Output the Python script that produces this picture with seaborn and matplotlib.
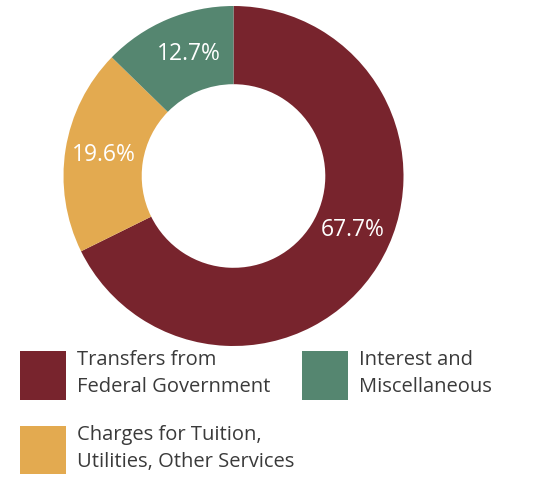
import seaborn as sns
import matplotlib.pyplot as plt

sns.set_theme(style="white")
plt.rcParams['font.family'] = ['Open Sans', 'DejaVu Sans']

# data
labels = ["Transfers from\nFederal Government",
          "Charges for Tuition,\nUtilities, Other Services",
          "Interest and\nMiscellaneous"]
shares = [67.7, 19.6, 12.7]
colors = ["#78242d", "#e3aa50", "#558670"]

fig = plt.figure(figsize=(5.53, 4.8), dpi=100)
# pie axes: 340x340 px box, centre at (233.5, 176) from top-left
ax = fig.add_axes([63.5 / 553, (480 - 346) / 480, 340 / 553, 340 / 480])

wedges, texts, autotexts = ax.pie(
    shares, colors=colors, startangle=90, counterclock=False,
    radius=1, wedgeprops=dict(width=0.46, edgecolor="none"),
    autopct="%.1f%%", pctdistance=0.77,
    textprops=dict(color="white", fontsize=16.5))
# the big label sits a bit further round than the wedge middle
autotexts[0].set_position((0.70, -0.32))
autotexts[1].set_position((-0.76, 0.125))
autotexts[2].set_position((-0.26, 0.72))
ax.set_xlim(-1, 1)
ax.set_ylim(-1, 1)
ax.set_aspect("equal")
ax.axis("off")

leg = fig.legend(wedges, labels, ncol=2, loc="upper left",
                 bbox_to_anchor=(12 / 553, 1 - 342 / 480),
                 frameon=False, fontsize=14.5, labelcolor="#3a3a3a",
                 handlelength=2.3, handleheight=3.35, handletextpad=0.55,
                 columnspacing=0.35, labelspacing=1.25, borderaxespad=0)
for t in leg.get_texts():
    t.set_linespacing(1.45)

fig.savefig("out.png", dpi=100)
